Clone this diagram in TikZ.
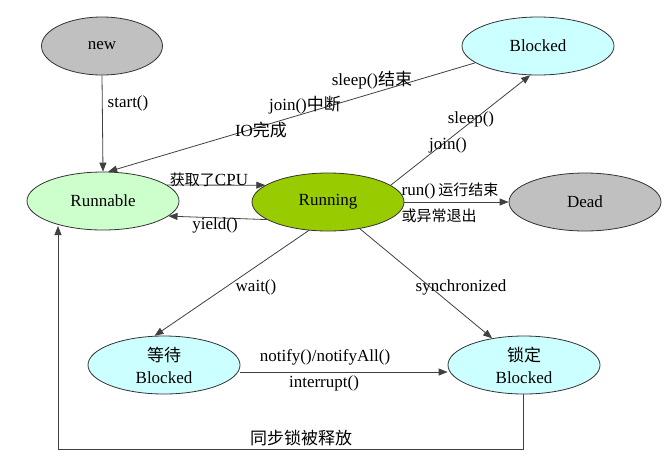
\documentclass[tikz,border=0pt]{standalone}
\usepackage{fontspec}
\setmainfont{Liberation Serif}
\newfontfamily\cjk{Noto Sans CJK SC}
\usetikzlibrary{shapes.geometric,arrows.meta}
\definecolor{cgray}{HTML}{C0C0C0}
\definecolor{ccyan}{HTML}{CCFFFF}
\definecolor{clgreen}{HTML}{CCFFCC}
\definecolor{cgreen}{HTML}{99CC00}
\newcommand{\smallcjk}[1]{{\cjk\fontsize{15}{17}\selectfont #1}}
\tikzset{
  st/.style={ellipse,draw=black!80,line width=0.8pt,minimum width=152pt,minimum height=58pt,inner sep=0pt,font=\fontsize{17}{19}\selectfont,align=center},
  ar/.style={draw=black!75,line width=0.8pt,-{Triangle[length=9pt,width=7pt]}},
  lbl/.style={font=\fontsize{17}{19}\selectfont,inner sep=1pt}
}
\begin{document}
\begin{tikzpicture}[x=1pt,y=-1pt]
\useasboundingbox (0,0) rectangle (668,475);
\node[st,fill=cgray,minimum width=121pt] (new) at (102,46) {new};
\node[st,fill=ccyan] (blk) at (538,46) {Blocked};
\node[st,fill=clgreen] (rbl) at (103,201) {Runnable};
\node[st,fill=cgreen] (run) at (328,202) {Running};
\node[st,fill=cgray] (dead) at (585,202) {Dead};
\node[st,fill=ccyan] (wait) at (164,365) {{\cjk 等待}\\[3pt]Blocked};
\node[st,fill=ccyan] (lock) at (524,365) {{\cjk 锁定}\\[3pt]Blocked};
\coordinate (c1) at (523,449);
\coordinate (c2) at (58,449);
\coordinate (c3) at (58,226);
% arrows
\draw[ar] (new.south) -- (rbl.north);
\node[lbl] (l1) at (128,103) {start()};
\draw[ar] (blk.195) -- (rbl.80);
\node[lbl] (l2) at (372,80) {sleep(){\cjk 结束}};
\node[lbl] (l3) at (305,105) {join(){\cjk 中断}};
\node[lbl] (l4) at (261,130) {IO{\cjk 完成}};
\draw[ar] (run.15) -- (blk.255);
\node[lbl] (l5) at (471,119) {sleep()};
\node[lbl] (l6) at (448,145) {join()};
\draw[ar] (rbl.14) -- (run.165);
\node[lbl] (l7) at (209,180) {\smallcjk{获取了}CPU};
\draw[ar] (run.196) -- (rbl.347);
\node[lbl] (l8) at (215,225) {yield()};
\draw[ar] (run.east) -- (dead.west);
\node[lbl] (l9) at (450,191) {run()\,\smallcjk{运行结束}};
\node[lbl] (l10) at (439,216) {\smallcjk{或异常退出}};
\draw[ar] (run.236) -- (wait.108);
\node[lbl] (l11) at (256,287) {wait()};
\draw[ar] (run.320) -- (lock.140);
\node[lbl] (l12) at (461,287) {synchronized};
\draw[ar] (wait.east |- 0,372) -- (lock.west |- 0,372);
\node[lbl] (l13) at (325,357) {notify()/notifyAll()};
\node[lbl] (l14) at (324,383) {interrupt()};
\draw[ar] (lock.south -| c1) -- (c1) -- (c2) -- (c3);
\node[lbl] (l15) at (301,438) {\cjk 同步锁被释放};
\end{tikzpicture}
\end{document}
